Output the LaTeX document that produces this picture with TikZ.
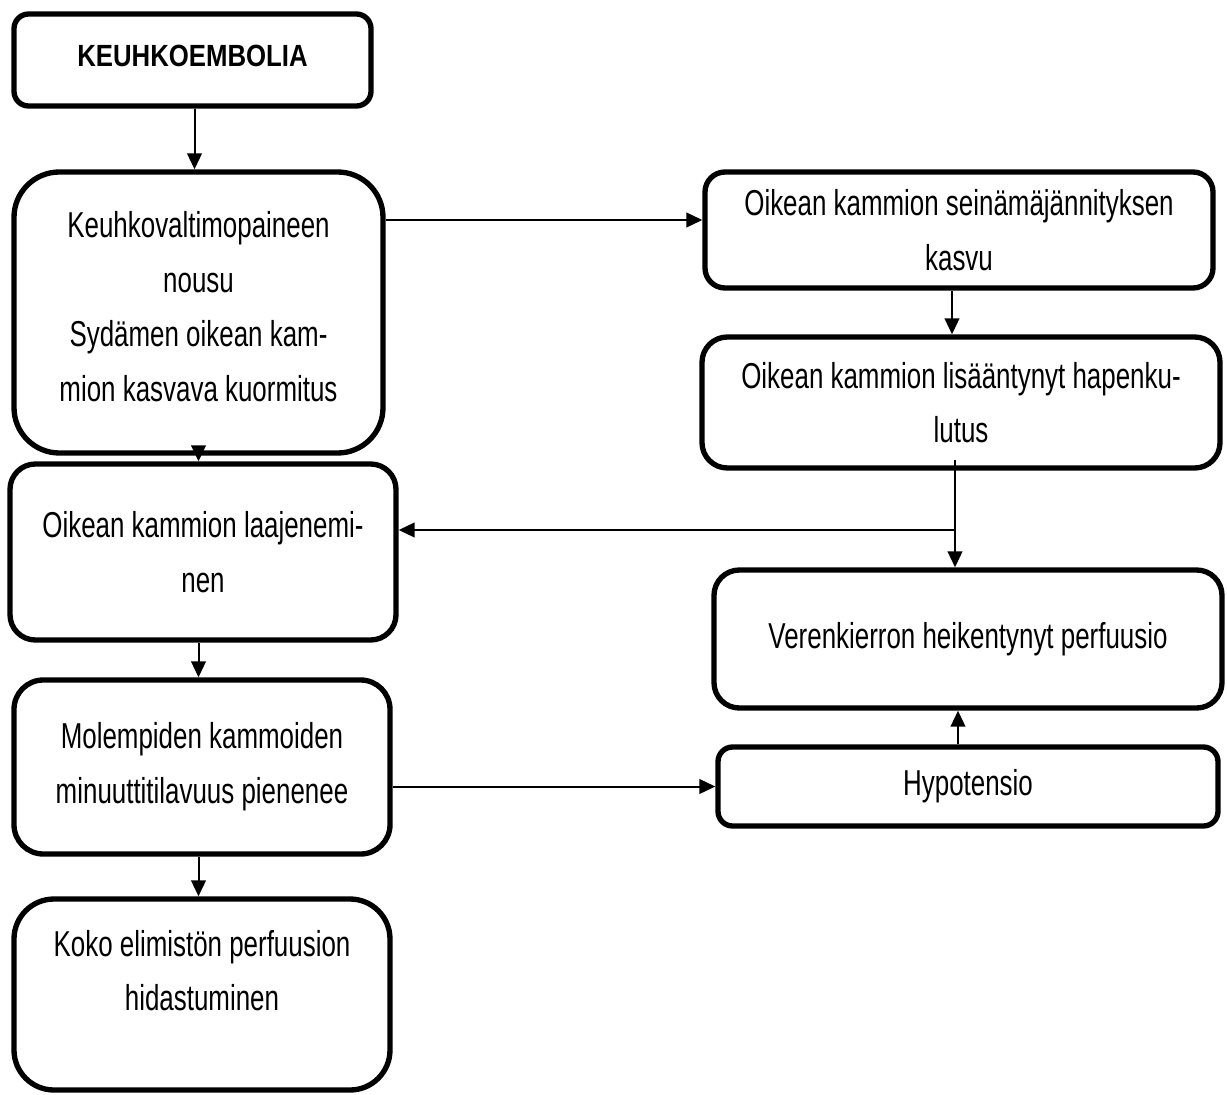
\documentclass[tikz,border=0pt]{standalone}
\usepackage{fontspec}
\usepackage{tikz}
\usetikzlibrary{arrows.meta, positioning}
\newfontfamily\boxfont[FakeStretch=0.72]{Liberation Sans}
\newfontfamily\titlefont[FakeStretch=0.84]{Liberation Sans}

\begin{document}
\begin{tikzpicture}[
        x=0.75pt, y=-0.75pt,
        laatikko/.style={draw=black, line width=4pt, fill=white, align=center, inner sep=0pt,
            font=\boxfont\fontsize{27}{41}\selectfont},
        otsikko/.style={laatikko, font=\titlefont\bfseries\fontsize{23}{41}\selectfont},
        nuoli/.style={-{Triangle[length=12pt, width=11pt]}, line width=1.5pt}
    ]
        \useasboundingbox (0,0) rectangle (1227,1095);

        \node[otsikko, rounded corners=11pt, minimum width=267.75pt, minimum height=69pt] (embolia) at (192.5,60) {KEUHKOEMBOLIA\\[-34pt]\mbox{}};
        \node[laatikko, rounded corners=34pt, minimum width=276.75pt, minimum height=210.75pt] (paine) at (198.5,312.5) {Keuhkovaltimopaineen\\nousu\\Sydämen oikean kam-\\mion kasvava kuormitus\\[-32pt]\mbox{}};
        \node[laatikko, rounded corners=19pt, minimum width=289.5pt, minimum height=132pt] (laaj) at (203,552) {Oikean kammion laajenemi-\\nen};
        \node[laatikko, rounded corners=22pt, minimum width=282pt, minimum height=130.5pt] (minuutti) at (202,767) {Molempiden kammoiden\\minuuttitilavuus pienenee};
        \node[laatikko, rounded corners=30pt, minimum width=282pt, minimum height=143.25pt] (elimisto) at (202,994.5) {Koko elimistön perfuusion\\hidastuminen\\[-5pt]\mbox{}};

        \node[laatikko, rounded corners=15pt, minimum width=381pt, minimum height=87pt] (seina) at (959,230) {Oikean kammion seinämäjännityksen\\kasvu};
        \node[laatikko, rounded corners=19pt, minimum width=388.5pt, minimum height=98.25pt] (happi) at (961,402.5) {Oikean kammion lisääntynyt hapenku-\\lutus};
        \node[laatikko, rounded corners=19pt, minimum width=381pt, minimum height=103.5pt] (perf) at (968,639) {Verenkierron heikentynyt perfuusio};
        \node[laatikko, rounded corners=11pt, minimum width=375pt, minimum height=59.25pt] (hypo) at (968,786.5) {Hypotensio};

        \coordinate (p1) at ([xshift=1.5pt]embolia.south);
        \coordinate (p2) at ([yshift=7.5pt]seina.west);
        \coordinate (p3) at ([xshift=-5.25pt]seina.south);
        \coordinate (lutus) at (955,460);
        \coordinate (haara) at (955,530);
        \coordinate (p4) at ([xshift=-7.5pt]hypo.north);

        \draw[nuoli] (p1) -- (p1 |- paine.north);
        \draw[nuoli] (paine.south) -- (paine.south |- laaj.north);
        \draw[nuoli] (paine.south |- laaj.south) -- (paine.south |- minuutti.north);
        \draw[nuoli] (paine.south |- minuutti.south) -- (paine.south |- elimisto.north);
        \draw[nuoli] (p2 -| paine.east) -- (p2);
        \draw[nuoli] (p3) -- (p3 |- happi.north);
        \draw[nuoli] (lutus) -- (lutus |- perf.north);
        \draw[nuoli] (haara) -- (haara -| laaj.east);
        \draw[nuoli] (minuutti.east |- hypo.west) -- (hypo.west);
        \draw[nuoli] (p4) -- (p4 |- perf.south);
    \end{tikzpicture}
\end{document}
